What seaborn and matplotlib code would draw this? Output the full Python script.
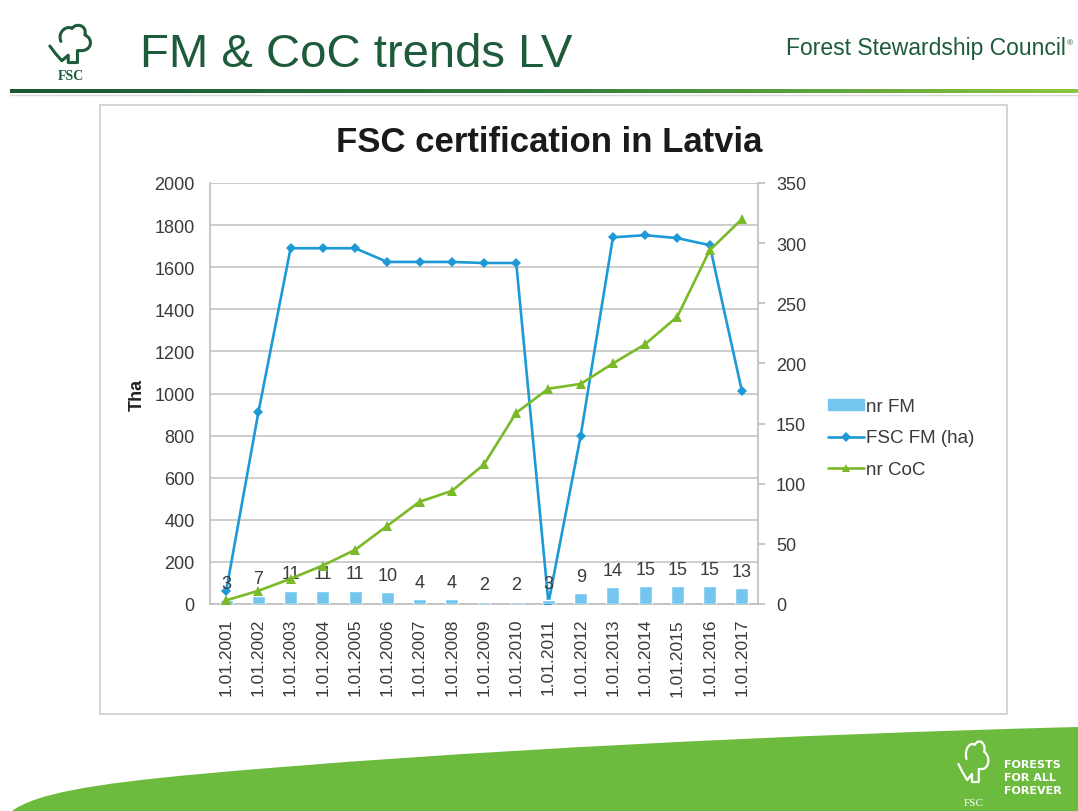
import numpy as np
import pandas as pd
import seaborn as sns
import matplotlib.pyplot as plt
from matplotlib.path import Path
from matplotlib.patches import PathPatch, Rectangle, Patch
from matplotlib.lines import Line2D
from matplotlib.colors import LinearSegmentedColormap

# data
dates = ['1.01.2001', '1.01.2002', '1.01.2003', '1.01.2004', '1.01.2005',
         '1.01.2006', '1.01.2007', '1.01.2008', '1.01.2009', '1.01.2010',
         '1.01.2011', '1.01.2012', '1.01.2013', '1.01.2014', '1.01.2015',
         '1.01.2016', '1.01.2017']
nr_fm = [3, 7, 11, 11, 11, 10, 4, 4, 2, 2, 3, 9, 14, 15, 15, 15, 13]
fsc_fm_ha = [60, 910, 1690, 1690, 1690, 1625, 1625, 1625, 1620, 1620,
             5, 800, 1742, 1752, 1738, 1705, 1012]
nr_coc = [3, 11, 21, 32, 45, 65, 85, 94, 116, 159, 179, 183, 200, 216, 239, 294, 320]

left_ticks = list(range(0, 2001, 200))
right_ticks = list(range(0, 351, 50))

BLUE = '#1d9ad6'
GREEN = '#7ab928'
BAR = '#74c6ee'
DKGREEN = '#1d5b3b'
TXT = '#3a3a3a'

W, H = 1078, 812

sns.set_style('white')
plt.rcParams['font.family'] = ['Liberation Sans', 'DejaVu Sans']

fig = plt.figure(figsize=(W / 100, H / 100), dpi=100)

# background layer in pixel coords
bg = fig.add_axes([0, 0, 1, 1])
bg.set_xlim(0, W)
bg.set_ylim(H, 0)
bg.axis('off')


def tree(ax, x0, y0, w, h, color, lw):
    u = [(0.28, 0.40),
         (0.20, 0.20), (0.40, 0.04), (0.52, 0.12),
         (0.62, -0.02), (0.86, 0.06), (0.80, 0.26),
         (1.00, 0.34), (0.95, 0.62), (0.70, 0.60),
         (0.64, 0.60), (0.64, 0.86), (0.44, 0.86), (0.44, 0.70),
         (0.30, 0.82), (0.16, 0.66), (0.04, 0.50)]
    codes = ([Path.MOVETO] + [Path.CURVE4] * 9 + [Path.LINETO] * 7)
    verts = [(x0 + a * w, y0 + b * h) for a, b in u]
    ax.add_patch(PathPatch(Path(verts, codes), fill=False, ec=color, lw=lw,
                           capstyle='round', joinstyle='round'))


# header
tree(bg, 48, 24, 46, 46, DKGREEN, 2.2)
bg.text(71, 80, 'FSC', ha='center', va='baseline', fontsize=10, weight='bold',
        color=DKGREEN, family='Liberation Serif')
bg.text(140, 67, 'FM & CoC trends LV', fontsize=34, color=DKGREEN, va='baseline')
bg.text(1066, 55, 'Forest Stewardship Council', fontsize=16.5, color=DKGREEN,
        va='baseline', ha='right')
bg.text(1067, 45, '®', fontsize=6, color=DKGREEN, va='baseline')

cmap = LinearSegmentedColormap.from_list('hdr', ['#1a5734', '#2f7d3b', '#8cc63f'])
bg.imshow(np.linspace(0, 1, 256)[None, :], cmap=cmap, aspect='auto',
          extent=(10, W, 94, 90), zorder=2)
bg.plot([10, W], [95.5, 95.5], color='#d8d8d8', lw=1)
bg.set_xlim(0, W)
bg.set_ylim(H, 0)

# chart frame
bg.add_patch(Rectangle((100, 106), 907, 609, fc='white', ec='#cdcdcd', lw=1.2))

# green swoosh at the bottom
sw = [(12, H), (35, 795), (90, 785), (200, 775),
      (450, 752), (800, 735), (W, 728),
      (W, H), (12, H)]
sw_codes = [Path.MOVETO, Path.CURVE4, Path.CURVE4, Path.CURVE4,
            Path.CURVE4, Path.CURVE4, Path.CURVE4, Path.LINETO, Path.CLOSEPOLY]
bg.add_patch(PathPatch(Path(sw, sw_codes), fc='#6dbb3e', ec='none'))
tree(bg, 957, 740, 34, 50, 'white', 1.6)
bg.text(974, 806, 'FSC', ha='center', va='baseline', fontsize=8, color='white',
        family='Liberation Serif')
for i, word in enumerate(['FORESTS', 'FOR ALL', 'FOREVER']):
    bg.text(1004, 768 + i * 13, word, fontsize=8, weight='bold', color='white',
            va='baseline', family='Liberation Sans Narrow')

# the chart itself
df = pd.DataFrame({'date': dates, 'pos': np.arange(len(dates)), 'nr_fm': nr_fm,
                   'fsc_fm_ha': fsc_fm_ha, 'nr_coc': nr_coc})

ax = fig.add_axes([210 / W, 1 - 605 / H, 548 / W, 421 / H])
ax.patch.set_visible(False)
ax2 = ax.twinx()

sns.barplot(data=df, x='date', y='nr_fm', ax=ax2, color=BAR, width=0.4,
            saturation=1, zorder=2)
ax2.bar_label(ax2.containers[0], labels=[str(v) for v in nr_fm], padding=6,
              fontsize=13, color=TXT)
sns.lineplot(data=df, x='pos', y='nr_coc', ax=ax2, color=GREEN, lw=1.9,
             marker='^', markersize=6.5, markeredgewidth=0, zorder=3)
sns.lineplot(data=df, x='pos', y='fsc_fm_ha', ax=ax, color=BLUE, lw=1.9,
             marker='D', markersize=5, markeredgewidth=0, zorder=3)

ax.set_xlim(-0.5, len(dates) - 0.5)
ax.set_ylim(0, 2000)
ax2.set_ylim(0, 350)
ax.set_yticks(left_ticks)
ax2.set_yticks(right_ticks)
ax.set_xticks(df['pos'])
ax.set_xticklabels(dates, rotation=90)
ax.set_xlabel('')
ax2.set_ylabel('')
ax.set_ylabel('Tha', fontsize=13, weight='bold', color='#222222', labelpad=6)

ax.yaxis.grid(True, color='#c9c9c9', lw=1.3)
ax.set_axisbelow(True)
for a in (ax, ax2):
    for s in a.spines.values():
        s.set_color('#bdbdbd')
        s.set_linewidth(1.2)
    a.spines['top'].set_visible(False)
ax.spines['right'].set_visible(False)
ax2.spines['left'].set_visible(False)
ax2.spines['bottom'].set_visible(False)

ax.tick_params(axis='y', length=0, pad=11, labelsize=13, labelcolor=TXT)
ax.tick_params(axis='x', length=0, pad=10, labelsize=12.5, labelcolor=TXT)
ax2.tick_params(axis='y', length=5, width=1.2, color='#bdbdbd', pad=8,
                labelsize=13, labelcolor=TXT)

fig.text(549 / W, 1 - 152 / H, 'FSC certification in Latvia', ha='center',
         va='baseline', fontsize=25, weight='bold', color='#1a1a1a')

handles = [Patch(color=BAR),
           Line2D([], [], color=BLUE, lw=1.9, marker='D', markersize=5, markeredgewidth=0),
           Line2D([], [], color=GREEN, lw=1.9, marker='^', markersize=6, markeredgewidth=0)]
leg = fig.legend(handles, ['nr FM', 'FSC FM (ha)', 'nr CoC'], loc='center left',
                 bbox_to_anchor=(828 / W, 1 - 439 / H), frameon=False, fontsize=13.5,
                 handlelength=1.9, handleheight=0.5, handletextpad=0.15,
                 labelspacing=0.75, borderpad=0, borderaxespad=0)
for t in leg.get_texts():
    t.set_color(TXT)

fig.savefig('out.png', dpi=100)
